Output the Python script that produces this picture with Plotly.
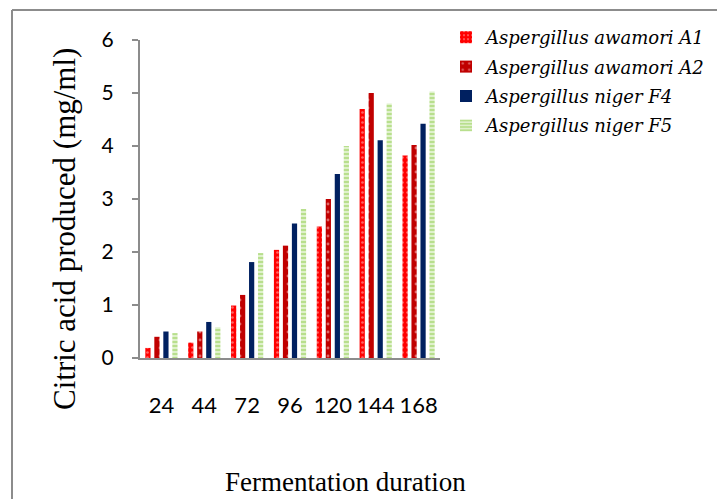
import plotly.graph_objects as go

categories = ["24", "44", "72", "96", "120", "144", "168"]
series_names = ["Aspergillus awamori A1", "Aspergillus awamori A2",
                "Aspergillus niger F4", "Aspergillus niger F5"]
a1 = [0.19, 0.29, 0.99, 2.04, 2.48, 4.70, 3.82]
a2 = [0.40, 0.50, 1.19, 2.12, 3.00, 5.00, 4.02]
f4 = [0.50, 0.68, 1.81, 2.54, 3.47, 4.11, 4.42]
f5 = [0.47, 0.58, 1.98, 2.81, 4.00, 4.80, 5.03]
y_ticks = [0, 1, 2, 3, 4, 5, 6]

W, H = 717, 499
L, R, T, B = 140, 440, 40, 358

def px(x):
    return (x - L) / (R - L)

def py(y):
    return (B - y) / (B - T)

styles = [
    dict(color="#FF0000", pattern=dict(shape=".", fgcolor="#FFC8C8", bgcolor="#FF0000", size=5, solidity=0.22, fillmode="overlay")),
    dict(color="#C00000", pattern=dict(shape=".", fgcolor="#FFD0D0", bgcolor="#C00000", size=8, solidity=0.1, fillmode="overlay")),
    dict(color="#002060"),
    dict(color="#92D050", pattern=dict(shape="-", fgcolor="#8CCB48", bgcolor="#E4F3D2", size=4, solidity=0.55, fillmode="overlay")),
]

fig = go.Figure()
for name, vals, st in zip(series_names, [a1, a2, f4, f5], styles):
    fig.add_trace(go.Bar(x=categories, y=vals, name=name, legendgroup=name,
                         marker=dict(line=dict(width=0), **st)))

fig.update_layout(
    width=W, height=H,
    margin=dict(l=L, r=W - R, t=T, b=H - B, pad=0, autoexpand=False),
    paper_bgcolor="white", plot_bgcolor="white",
    barmode="group", bargap=0.16, bargroupgap=0.42,
    showlegend=True,
    legend=dict(x=px(446), y=py(19), xanchor="left", yanchor="top",
                font=dict(family="DejaVu Serif", size=18, color="black", style="italic"),
                bgcolor="rgba(0,0,0,0)", tracegroupgap=3, itemwidth=30),
    font=dict(family="Lato", color="black"),
    xaxis=dict(type="category", showline=True, linecolor="#8C8C8C", linewidth=2,
               ticks="", showgrid=False, tickfont=dict(family="Lato", size=22, color="black"),
               ticklabelstandoff=27, zeroline=False, tickangle=0, automargin=False),
    yaxis=dict(range=[0, 6], tickvals=y_ticks, showline=True, linecolor="#8C8C8C", linewidth=2,
               ticks="outside", ticklen=6, tickcolor="#8C8C8C", tickwidth=2, showgrid=False,
               tickfont=dict(family="Lato", size=21, color="black"), ticklabelstandoff=14,
               zeroline=False, automargin=False),
    annotations=[
        dict(text="Citric acid produced (mg/ml)", xref="paper", yref="paper",
             x=px(64), y=py(229), textangle=-90, showarrow=False,
             font=dict(family="Liberation Serif", size=31, color="black"),
             xanchor="center", yanchor="middle"),
        dict(text="Fermentation duration", xref="paper", yref="paper",
             x=px(345), y=py(482), showarrow=False,
             font=dict(family="Liberation Serif", size=27, color="black"),
             xanchor="center", yanchor="middle"),
    ],
    shapes=[
        dict(type="line", xref="paper", yref="paper", x0=px(12), x1=px(717), y0=py(10), y1=py(10),
             line=dict(color="#8C8C8C", width=2)),
        dict(type="line", xref="paper", yref="paper", x0=px(12), x1=px(12), y0=py(10), y1=py(499),
             line=dict(color="#8C8C8C", width=2)),
    ],
)

fig.write_html("out.html")
